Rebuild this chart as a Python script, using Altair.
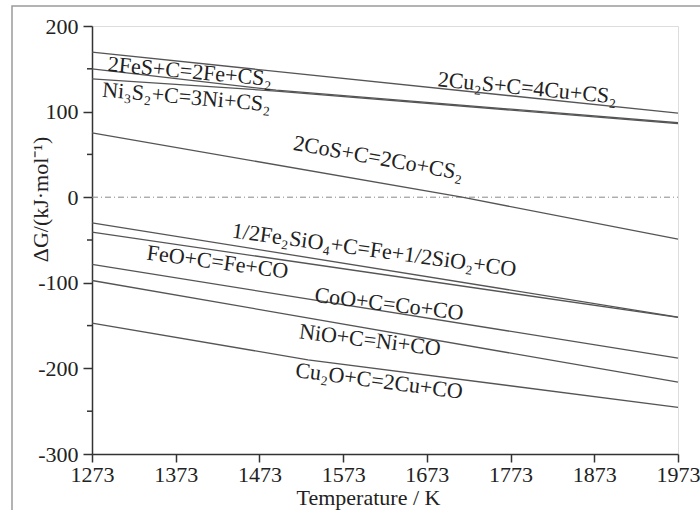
import altair as alt
import pandas as pd

# ---- data ----
names = ["Cu2S", "FeS", "Ni3S2", "CoS", "Fe2SiO4", "FeO", "CoO", "NiO", "Cu2O"]
T_cu2s = [1273, 1973];        dG_cu2s = [169.4, 98.1]
T_fes = [1273, 1493, 1973];   dG_fes = [150.0, 125.0, 87.0]
T_ni3s2 = [1273, 1493, 1973]; dG_ni3s2 = [138.3, 124.0, 86.0]
T_cos = [1273, 1715, 1973];   dG_cos = [75.2, 0.0, -49.0]
T_fe2sio4 = [1273, 1973];     dG_fe2sio4 = [-29.9, -140.0]
T_feo = [1273, 1973];         dG_feo = [-40.9, -140.5]
T_coo = [1273, 1973];         dG_coo = [-78.6, -188.0]
T_nio = [1273, 1973];         dG_nio = [-97.3, -216.0]
T_cu2o = [1273, 1531, 1973];  dG_cu2o = [-147.2, -190.0, -245.5]

series_T = [T_cu2s, T_fes, T_ni3s2, T_cos, T_fe2sio4, T_feo, T_coo, T_nio, T_cu2o]
series_dG = [dG_cu2s, dG_fes, dG_ni3s2, dG_cos, dG_fe2sio4, dG_feo, dG_coo, dG_nio, dG_cu2o]

label_text = ["2Cu₂S+C=4Cu+CS₂", "2FeS+C=2Fe+CS₂", "Ni₃S₂+C=3Ni+CS₂", "2CoS+C=2Co+CS₂",
              "1/2Fe₂SiO₄+C=Fe+1/2SiO₂+CO", "FeO+C=Fe+CO", "CoO+C=Co+CO",
              "NiO+C=Ni+CO", "Cu₂O+C=2Cu+CO"]
label_T = [1793, 1390, 1386, 1615, 1610, 1423, 1628, 1605, 1616]
label_dG = [127.6, 146.8, 117.0, 45.8, -61.7, -75.7, -124.8, -166.8, -214.7]
label_angle = [5.6, 5.2, 5.0, 10.2, 7.8, 7.7, 7.0, 7.0, 7.5]

x_ticks = [1273, 1373, 1473, 1573, 1673, 1773, 1873, 1973]
y_ticks = [-300, -200, -100, 0, 100, 200]
y_minor = [-250, -150, -50, 50, 150]

rows = []
for n, ts, gs in zip(names, series_T, series_dG):
    for t, g in zip(ts, gs):
        rows.append({"series": n, "T": t, "dG": g})
df_lines = pd.DataFrame(rows)
df_labels = pd.DataFrame({"text": label_text, "T": label_T, "dG": label_dG, "angle": label_angle})
df_minor = pd.DataFrame({"v": y_minor})

FONT = "Liberation Serif"
xscale = alt.Scale(domain=[1273, 1973], nice=False, zero=False)
yscale = alt.Scale(domain=[-300, 200], nice=False, zero=False)

x_axis = alt.Axis(values=x_ticks, title="Temperature / K", grid=False, tickSize=8,
                  labelFontSize=22, labelFont=FONT, labelColor="#222", labelPadding=2,
                  labelFlush=False, labelOverlap=False,
                  titleFontSize=22, titleFont=FONT, titleFontWeight="normal", titleColor="#222",
                  titleX=276, titleY=43, titleBaseline="middle",
                  domainColor="#333", domainWidth=1.5, tickColor="#333", tickWidth=1.5,
                  format="d")
y_axis = alt.Axis(values=y_ticks, title="ΔG/(kJ·mol⁻¹)", grid=False, tickSize=9,
                  labelFontSize=22, labelFont=FONT, labelColor="#222", labelPadding=5,
                  labelFlush=False, labelOverlap=False,
                  labelExpr="datum.value < 0 ? '-' + abs(datum.value) : '' + datum.value",
                  titleFontSize=22, titleFont=FONT, titleFontWeight="normal", titleColor="#222",
                  titleX=-52, titleY=173, titleBaseline="middle", titleAngle=-90,
                  domainColor="#333", domainWidth=1.5, tickColor="#333", tickWidth=1.5)

frame = alt.Chart(pd.DataFrame({"a": [0]})).mark_rect(
    fill=None, stroke="#9a9a9a", strokeWidth=1.5, clip=False
).encode(x=alt.value(-80), x2=alt.value(615), y=alt.value(-20), y2=alt.value(492))

lines = alt.Chart(df_lines).mark_line(color="#555", strokeWidth=1.3).encode(
    x=alt.X("T:Q", scale=xscale, axis=x_axis),
    y=alt.Y("dG:Q", scale=yscale, axis=y_axis),
    detail="series:N",
)

zero = alt.Chart(pd.DataFrame({"z": [0]})).mark_rule(
    color="#888", strokeWidth=1, strokeDash=[6, 3, 1, 3]
).encode(y=alt.Y("z:Q", scale=yscale), x=alt.value(0), x2=alt.value(586))

minor = alt.Chart(df_minor).mark_rule(color="#333", strokeWidth=1.5).encode(
    y=alt.Y("v:Q", scale=yscale), x=alt.value(-5), x2=alt.value(0)
)

labels = alt.Chart(df_labels).mark_text(
    font=FONT, fontSize=22, color="#222", align="center", baseline="middle"
).encode(
    x=alt.X("T:Q", scale=xscale),
    y=alt.Y("dG:Q", scale=yscale),
    text="text:N",
    angle=alt.Angle("angle:Q", scale=None),
)

chart = alt.layer(frame, zero, lines, minor, labels).properties(
    width=586, height=428,
    autosize=alt.AutoSizeParams(type="none"),
    padding={"left": 92, "top": 26, "right": 22, "bottom": 56},
).configure_view(stroke="#333", strokeWidth=1.5).configure(background="white")

chart.save("out.html", embed_options={"renderer": "svg", "actions": False})
